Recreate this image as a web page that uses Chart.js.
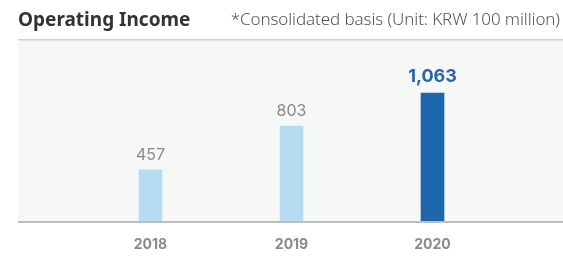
<!DOCTYPE html>
<html>
<head>
<meta charset="utf-8">
<script src="https://cdn.jsdelivr.net/npm/chart.js@4"></script>
<style>
  body { margin: 0; background: #fff; }
  #wrap { position: relative; width: 563px; height: 257px; overflow: hidden; }
  #title { position: absolute; left: 18px; top: 6px; font: bold 19px "Noto Sans", sans-serif; color: #333; }
  #note { position: absolute; right: 3px; top: 7px; font: 300 17px "Noto Sans", sans-serif; color: #555; letter-spacing: -0.1px; }
  canvas { position: absolute; left: 0; top: 0; }
</style>
</head>
<body>
<div id="wrap">
  <canvas id="incomeChart" width="563" height="257"></canvas>
  <div id="title">Operating Income</div>
  <div id="note">*Consolidated basis (Unit: KRW 100 million)</div>
</div>
<script>
// Operating income, KRW 100 million
const years = ["2018", "2019", "2020"];
const income = [457, 803, 1063];
const valueLabels = ["457", "803", "1,063"];
const barColors = ["#b5dcf0", "#b5dcf0", "#1c67ab"];
const labelColors = ["#8a8a8a", "#8a8a8a", "#2a64ad"];

// grey panel behind the bars, with top rule and base line
const panel = {
  id: "panel",
  beforeDraw(chart) {
    const { ctx, chartArea } = chart;
    ctx.save();
    ctx.fillStyle = "#f6f8f8";
    ctx.fillRect(18, chartArea.top, chart.width - 18, chartArea.bottom - chartArea.top);
    ctx.fillStyle = "#cfcfcf";
    ctx.fillRect(18, chartArea.top - 1, chart.width - 18, 1.5);
    ctx.restore();
  },
  afterDatasetsDraw(chart) {
    const { ctx, chartArea } = chart;
    ctx.save();
    ctx.fillStyle = "#bdbdbd";
    ctx.fillRect(18, chartArea.bottom - 1, chart.width - 18, 2);
    // value labels above bars
    const meta = chart.getDatasetMeta(0);
    ctx.textAlign = "center";
    ctx.textBaseline = "bottom";
    meta.data.forEach((bar, i) => {
      const last = i === meta.data.length - 1;
      ctx.font = (last ? "bold 18px" : "16px") + " Inter, sans-serif";
      ctx.fillStyle = labelColors[i];
      ctx.fillText(valueLabels[i], bar.x, bar.y - 7);
    });
    ctx.restore();
  },
};

new Chart(document.getElementById("incomeChart"), {
  type: "bar",
  data: {
    labels: years,
    datasets: [
      {
        data: income,
        backgroundColor: barColors,
        barThickness: 23,
      },
    ],
  },
  options: {
    responsive: false,
    animation: false,
    layout: { padding: { left: 80, right: 60, top: 40, bottom: 0 } },
    plugins: { legend: { display: false }, tooltip: { enabled: false } },
    scales: {
      x: {
        grid: { display: false },
        border: { display: false },
        ticks: {
          color: "#8a8a8a",
          font: { family: "Inter", size: 14, weight: "bold" },
          padding: 6,
        },
        afterFit(axis) {
          axis.height = 35;
        },
      },
      y: { display: false, min: 47, max: 1480 },
    },
  },
  plugins: [panel],
});
</script>
</body>
</html>
